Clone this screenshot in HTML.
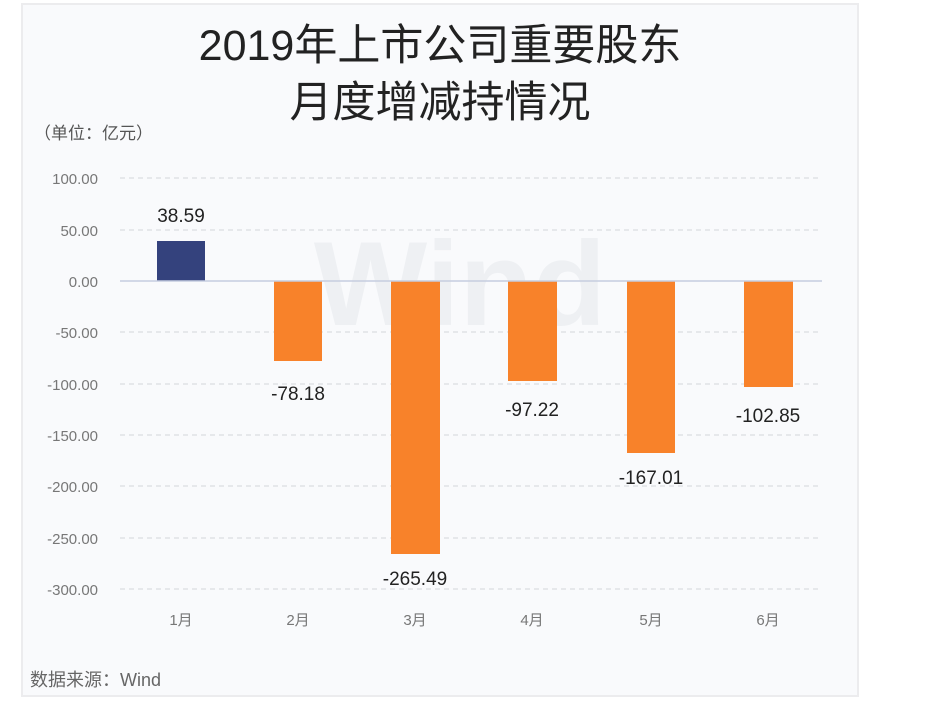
<!DOCTYPE html>
<html><head><meta charset="utf-8"><style>
body{margin:0;background:#fff;}
</style></head><body>
<svg width="931" height="719" xmlns="http://www.w3.org/2000/svg" style="display:block">
<rect x="0" y="0" width="931" height="719" fill="#fff"/>
<rect x="22" y="4" width="836" height="692" fill="#f9fafc" stroke="#ececee" stroke-width="2"/>
<g font-family="Liberation Sans, Noto Sans CJK SC, sans-serif">
<text x="440" y="60" font-size="43" text-anchor="middle" fill="#222">2019年上市公司重要股东</text>
<text x="440" y="117" font-size="43" text-anchor="middle" fill="#222">月度增减持情况</text>
<text x="34" y="139" font-size="17" fill="#555">（单位：亿元）</text>
<text x="460" y="325" font-size="120" font-weight="bold" text-anchor="middle" fill="#eef0f3">Wind</text>
<g stroke="#d4d6da" stroke-dasharray="5,4" stroke-width="1">
<line x1="120" y1="178" x2="822" y2="178"/>
<line x1="120" y1="230" x2="822" y2="230"/>
<line x1="120" y1="332" x2="822" y2="332"/>
<line x1="120" y1="384" x2="822" y2="384"/>
<line x1="120" y1="435" x2="822" y2="435"/>
<line x1="120" y1="486" x2="822" y2="486"/>
<line x1="120" y1="538" x2="822" y2="538"/>
<line x1="120" y1="589" x2="822" y2="589"/>
</g>
<g font-size="15" fill="#777" text-anchor="end">
<text x="98" y="184">100.00</text>
<text x="98" y="236">50.00</text>
<text x="98" y="287">0.00</text>
<text x="98" y="338">-50.00</text>
<text x="98" y="390">-100.00</text>
<text x="98" y="441">-150.00</text>
<text x="98" y="492">-200.00</text>
<text x="98" y="544">-250.00</text>
<text x="98" y="595">-300.00</text>
</g>
<rect x="157" y="241" width="48" height="40" fill="#34427d"/>
<g fill="#f8822a">
<rect x="274" y="281" width="48" height="80"/>
<rect x="391" y="281" width="49" height="273"/>
<rect x="508" y="281" width="49" height="100"/>
<rect x="627" y="281" width="48" height="172"/>
<rect x="744" y="281" width="49" height="106"/>
</g>
<line x1="120" y1="281" x2="822" y2="281" stroke="#c5cde0" stroke-width="1.5"/>
<g font-size="19" fill="#222" text-anchor="middle">
<text x="181" y="222">38.59</text>
<text x="298" y="400">-78.18</text>
<text x="415" y="585">-265.49</text>
<text x="532" y="416">-97.22</text>
<text x="651" y="484">-167.01</text>
<text x="768" y="422">-102.85</text>
</g>
<g font-size="15" fill="#777" text-anchor="middle">
<text x="181" y="625">1月</text>
<text x="298" y="625">2月</text>
<text x="415" y="625">3月</text>
<text x="532" y="625">4月</text>
<text x="651" y="625">5月</text>
<text x="768" y="625">6月</text>
</g>
<text x="30" y="686" font-size="18" fill="#666">数据来源：Wind</text>
</g>
</svg>
</body></html>
